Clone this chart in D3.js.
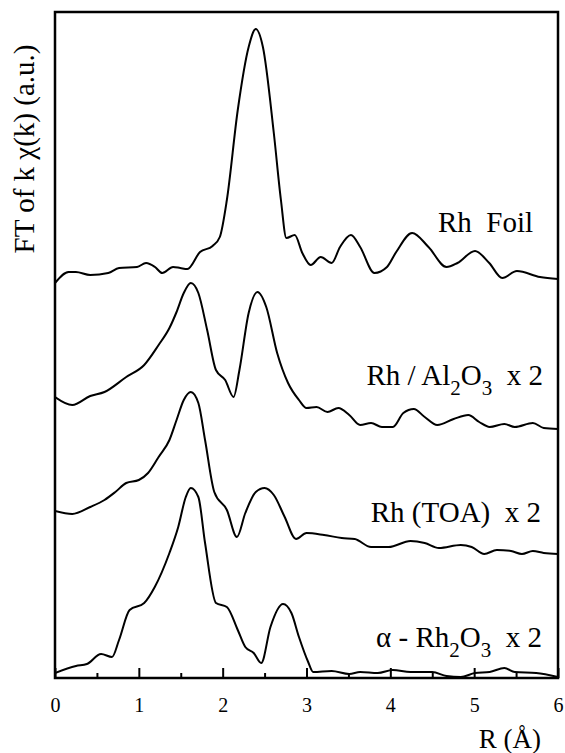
<!DOCTYPE html>
<html>
<head>
<meta charset="utf-8">
<script src="https://cdn.jsdelivr.net/npm/d3@7"></script>
<style>
  body { margin: 0; background: #fff; }
</style>
</head>
<body>
<div id="chart"></div>
<script>
// R (Å) positions and FT magnitude (a.u., curves already stacked)
const rhFoil = [
  [0, 395], [0.163, 406], [0.249, 406], [0.42, 403], [0.635, 405], [0.764, 410],
  [0.979, 411], [1.086, 415], [1.193, 411], [1.279, 405], [1.408, 411], [1.494, 410],
  [1.579, 409], [1.73, 426], [1.88, 432], [1.966, 441], [2.05, 478], [2.18, 568],
  [2.31, 631], [2.395, 649], [2.48, 631], [2.61, 545], [2.695, 478], [2.76, 440],
  [2.86, 443], [2.95, 425], [3.05, 413], [3.17, 421], [3.30, 415], [3.40, 431],
  [3.53, 443], [3.64, 431], [3.81, 405], [3.96, 411], [4.07, 426], [4.26, 445],
  [4.455, 431], [4.67, 411], [4.80, 415], [5.01, 427], [5.18, 415], [5.335, 400],
  [5.51, 407], [5.785, 401], [6.0, 399]
];

const rhAl2O3 = [
  [0, 281], [0.206, 273], [0.42, 282], [0.59, 286], [0.85, 301], [1.064, 313],
  [1.236, 333], [1.365, 350], [1.45, 366], [1.536, 385], [1.62, 395], [1.71, 385],
  [1.815, 348], [1.92, 308], [2.03, 298], [2.13, 281], [2.20, 308], [2.31, 365],
  [2.416, 386], [2.52, 371], [2.65, 325], [2.78, 295], [2.91, 278], [3.0, 270],
  [3.12, 271], [3.25, 266], [3.38, 270], [3.51, 263], [3.64, 253], [3.77, 255],
  [3.90, 251], [4.03, 251], [4.155, 265], [4.28, 269], [4.41, 261], [4.56, 253],
  [4.755, 259], [4.93, 263], [5.06, 256], [5.185, 251], [5.36, 254], [5.485, 251],
  [5.70, 255], [5.83, 250], [6.0, 249]
];

const rhTOA = [
  [0, 167], [0.206, 164], [0.42, 171], [0.59, 178], [0.72, 186], [0.85, 195],
  [1.0, 198], [1.11, 205], [1.236, 221], [1.365, 238], [1.45, 258], [1.536, 278],
  [1.62, 286], [1.71, 275], [1.79, 238], [1.90, 186], [2.05, 168], [2.17, 141],
  [2.27, 165], [2.395, 186], [2.50, 190], [2.61, 183], [2.74, 161], [2.875, 139],
  [3.0, 145], [3.21, 143], [3.42, 140], [3.575, 139], [3.77, 131], [3.98, 131],
  [4.24, 137], [4.41, 135], [4.58, 130], [4.84, 133], [4.97, 131], [5.12, 124],
  [5.27, 128], [5.44, 127], [5.57, 124], [5.70, 127], [5.83, 125], [6.0, 124]
];

const rh2O3 = [
  [0, 5], [0.25, 12], [0.38, 14], [0.55, 24], [0.68, 21], [0.764, 38],
  [0.89, 68], [1.064, 75], [1.19, 91], [1.365, 125], [1.47, 151], [1.56, 181],
  [1.62, 190], [1.71, 181], [1.79, 135], [1.92, 75], [2.05, 71], [2.18, 48],
  [2.27, 31], [2.37, 25], [2.46, 15], [2.57, 51], [2.72, 74], [2.82, 65],
  [2.91, 41], [3.02, 16], [3.08, 6], [3.30, 7], [3.51, 4], [3.64, 6],
  [3.85, 5], [4.03, 8], [4.24, 6], [4.50, 6], [4.67, 2], [4.84, 1],
  [5.01, 5], [5.185, 6], [5.36, 10], [5.485, 6], [5.74, 5], [6.0, 1]
];

const majorTicks = [0, 1, 2, 3, 4, 5, 6];
const minorTicks = [0.5, 1.5, 2.5, 3.5, 4.5, 5.5];

const serif = "'Liberation Serif', 'Times New Roman', Times, 'DejaVu Serif', serif";

const width = 565;
const height = 753;
const margin = { top: 12, right: 7, bottom: 75, left: 55 };
const innerW = width - margin.left - margin.right;
const innerH = height - margin.top - margin.bottom;

const svg = d3.select("#chart")
  .append("svg")
  .attr("width", width)
  .attr("height", height)
  .attr("font-family", serif);

const g = svg.append("g")
  .attr("transform", `translate(${margin.left},${margin.top})`);

const x = d3.scaleLinear().domain([0, 6]).range([0, innerW]);
const y = d3.scaleLinear().domain([0, 666]).range([innerH, 0]);

svg.append("defs").append("clipPath")
  .attr("id", "plot-clip")
  .append("rect")
  .attr("width", innerW)
  .attr("height", innerH);

const line = d3.line()
  .x((d) => x(d[0]))
  .y((d) => y(d[1]))
  .curve(d3.curveMonotoneX);

const curves = g.append("g").attr("clip-path", "url(#plot-clip)");
[rhFoil, rhAl2O3, rhTOA, rh2O3].forEach((series) => {
  curves.append("path")
    .datum(series)
    .attr("fill", "none")
    .attr("stroke", "#000")
    .attr("stroke-width", 2)
    .attr("stroke-linejoin", "round")
    .attr("d", line);
});

// bottom axis, ticks pointing inward
const xAxis = g.append("g")
  .attr("transform", `translate(0,${innerH})`)
  .call(d3.axisBottom(x).tickValues(majorTicks).tickSize(-10).tickPadding(20).tickFormat(d3.format("d")));
xAxis.attr("font-family", serif).attr("font-size", 20);
xAxis.select(".domain").remove();
xAxis.selectAll("line").attr("stroke-width", 2);
xAxis.selectAll("text").attr("fill", "#000");

const xMinor = g.append("g")
  .attr("transform", `translate(0,${innerH})`)
  .call(d3.axisBottom(x).tickValues(minorTicks).tickSize(-5).tickFormat(""));
xMinor.select(".domain").remove();
xMinor.selectAll("line").attr("stroke-width", 2);

// frame
g.append("rect")
  .attr("width", innerW)
  .attr("height", innerH)
  .attr("fill", "none")
  .attr("stroke", "#000")
  .attr("stroke-width", 2.5);

// axis titles
svg.append("text")
  .attr("transform", "translate(34,149) rotate(-90)")
  .attr("text-anchor", "middle")
  .attr("font-size", 29)
  .text("FT of k \u03c7(k) (a.u.)");

svg.append("text")
  .attr("x", 541)
  .attr("y", 748)
  .attr("text-anchor", "end")
  .attr("font-size", 27)
  .text("R (\u00c5)");

// series labels
const labelSize = 29;
function addLabel(parts, xEnd, yBase) {
  const t = svg.append("text")
    .attr("x", xEnd)
    .attr("y", yBase)
    .attr("text-anchor", "end")
    .attr("font-size", labelSize)
    .style("white-space", "pre");
  let shifted = false;
  parts.forEach((p) => {
    const sub = p.sub === true;
    let dy = 0;
    if (sub && !shifted) dy = 10;
    if (!sub && shifted) dy = -10;
    shifted = sub;
    t.append("tspan")
      .attr("dy", dy)
      .attr("font-size", sub ? 21 : labelSize)
      .text(p.t);
  });
}

addLabel([{ t: "Rh  Foil" }], 533, 232);
addLabel([{ t: "Rh / Al" }, { t: "2", sub: true }, { t: "O" }, { t: "3", sub: true }, { t: "  x 2" }], 543, 385);
addLabel([{ t: "Rh (TOA)  x 2" }], 541, 522);
addLabel([{ t: "\u03b1 - Rh" }, { t: "2", sub: true }, { t: "O" }, { t: "3", sub: true }, { t: "  x 2" }], 542, 647);
</script>
</body>
</html>
